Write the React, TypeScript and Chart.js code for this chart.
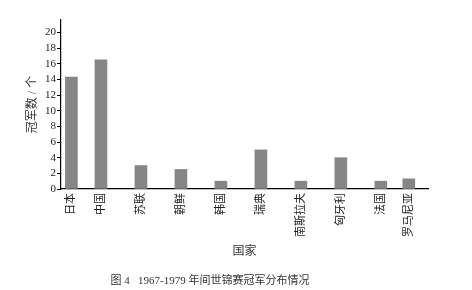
import React, { useEffect, useRef } from "react";
import { Chart, registerables } from "chart.js";

Chart.register(...registerables);

const countries = ["日本", "中国", "苏联", "朝鲜", "韩国", "瑞典", "南斯拉夫", "匈牙利", "法国", "罗马尼亚"];
const slots = [0.26, 1, 2, 3, 4, 5, 6, 7, 8, 8.7];
const champions = [14.3, 16.5, 3, 2.5, 1, 5, 1, 4, 1, 1.3];
const yTickStep = 2;
const xTitle = "国家";
const yTitle = "冠军数 / 个";
const caption = "图 4   1967-1979 年间世锦赛冠军分布情况";

const FONT = "'Liberation Serif', 'Noto Sans CJK SC', serif";

export default function App() {
  const ref = useRef<HTMLCanvasElement | null>(null);

  useEffect(() => {
    document.body.style.margin = "0";
    const canvas = ref.current;
    if (!canvas) return;

    const captionPlugin = {
      id: "captionPlugin",
      afterDraw(chart: any) {
        const ctx = chart.ctx;
        ctx.save();
        ctx.font = "11px " + FONT;
        ctx.fillStyle = "#333";
        ctx.textAlign = "center";
        ctx.textBaseline = "middle";
        ctx.fillText(caption, 210, 281);
        ctx.restore();
      },
    };

    const chart = new Chart(canvas, {
      type: "bar",
      data: {
        datasets: [
          {
            data: slots.map((s, i) => ({ x: s, y: champions[i] })),
            backgroundColor: "#868686",
            barThickness: 12,
          },
        ],
      },
      options: {
        animation: false,
        responsive: false,
        maintainAspectRatio: false,
        layout: { padding: { top: 20, right: 44, left: 0, bottom: 0 } },
        plugins: {
          legend: { display: false },
          tooltip: { enabled: false },
        },
        scales: {
          x: {
            type: "linear",
            min: 0,
            max: 9.18,
            offset: false,
            bounds: "data",
            grid: { display: false, drawTicks: false },
            border: { display: true, color: "#000", width: 1.2 },
            ticks: {
              autoSkip: false,
              minRotation: 90,
              maxRotation: 90,
              padding: 4,
              color: "#222",
              font: { family: FONT, size: 11 },
              callback: (_v: any, i: number) => countries[i],
            },
            afterBuildTicks: (scale: any) => {
              scale.ticks = slots.map((v) => ({ value: v }));
            },
            afterFit: (scale: any) => {
              scale.height = 101;
            },
            title: {
              display: true,
              text: xTitle,
              color: "#333",
              font: { family: FONT, size: 12 },
              padding: { top: 0, bottom: 31 },
            },
          },
          y: {
            min: 0,
            max: 21.6,
            grid: {
              display: true,
              drawOnChartArea: false,
              drawTicks: true,
              tickLength: 4,
              color: "#000",
            },
            border: { display: true, color: "#000", width: 1.2 },
            ticks: {
              stepSize: yTickStep,
              includeBounds: false,
              padding: 1,
              color: "#222",
              font: { family: FONT, size: 11 },
            },
            afterFit: (scale: any) => {
              scale.width = 61;
            },
            title: {
              display: true,
              text: yTitle,
              color: "#333",
              font: { family: FONT, size: 12 },
              padding: { top: 26, bottom: 0 },
            },
          },
        },
      },
      plugins: [captionPlugin],
    } as any);

    return () => chart.destroy();
  }, []);

  return <canvas ref={ref} width={472} height={290} style={{ display: "block" }} />;
}
